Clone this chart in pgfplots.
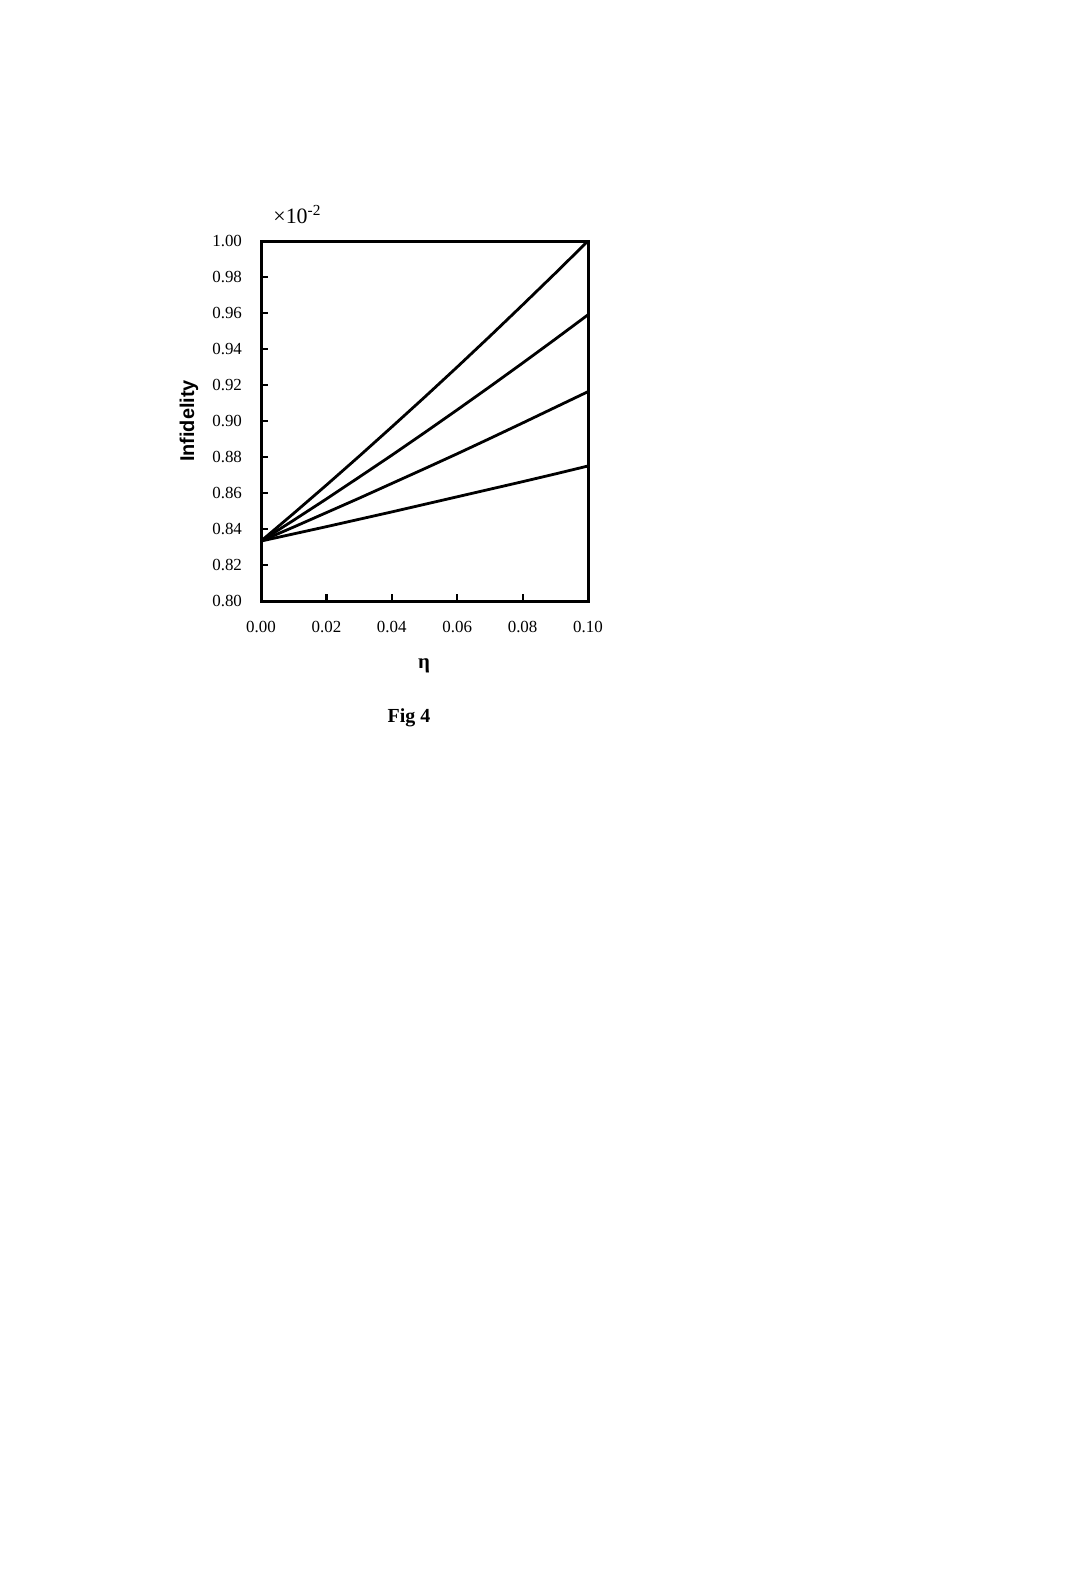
\documentclass[border=0pt]{standalone}
\usepackage{fontspec}
\setmainfont{Liberation Serif}
\newfontfamily\arialfont{Liberation Sans}
\usepackage{pgfplots}
\pgfplotsset{compat=1.18}

\begin{document}
\begin{tikzpicture}
% page: 1092 x 1572 px at 0.5bp per px
\useasboundingbox (0,0) rectangle (546bp,-786bp);
\begin{axis}[
    at={(130.5bp,-300.5bp)}, anchor=south west,
    scale only axis, width=163.5bp, height=180bp,
    xmin=0, xmax=0.1, ymin=0.8, ymax=1.0,
    xtick={0,0.02,0.04,0.06,0.08,0.1},
    ytick={0.80,0.82,0.84,0.86,0.88,0.90,0.92,0.94,0.96,0.98,1.00},
    xtick pos=left, ytick pos=left, tick align=inside,
    major tick length=3.5bp,
    tick style={line width=1.1bp, black},
    axis line style={line width=1.5bp},
    scaled ticks=false,
    /pgf/number format/.cd, fixed, fixed zerofill, precision=2, assume math mode=true,
    /pgfplots/.cd,
    ticklabel style={font=\fontsize{8.5}{10}\selectfont},
    yticklabel style={xshift=-6bp},
    xticklabel style={yshift=-6.5bp},
    clip=false,
]
\addplot[black, line width=1.4bp] coordinates {
(0,0.8333)(0.01,0.8487)(0.02,0.8644)(0.03,0.8804)(0.04,0.8967)(0.05,0.9132)
(0.06,0.9300)(0.07,0.9471)(0.08,0.9645)(0.09,0.9821)(0.10,1.0000)
};
\addplot[black, line width=1.4bp] coordinates {
(0,0.8333)(0.01,0.8449)(0.02,0.8567)(0.03,0.8688)(0.04,0.8810)(0.05,0.8935)
(0.06,0.9062)(0.07,0.9191)(0.08,0.9322)(0.09,0.9455)(0.10,0.9590)
};
\addplot[black, line width=1.4bp] coordinates {
(0,0.8333)(0.01,0.8411)(0.02,0.8491)(0.03,0.8571)(0.04,0.8653)(0.05,0.8735)
(0.06,0.8818)(0.07,0.8903)(0.08,0.8989)(0.09,0.9076)(0.10,0.9163)
};
\addplot[black, line width=1.4bp] coordinates {
(0,0.8333)(0.01,0.8373)(0.02,0.8413)(0.03,0.8454)(0.04,0.8495)(0.05,0.8537)
(0.06,0.8579)(0.07,0.8621)(0.08,0.8663)(0.09,0.8706)(0.10,0.8750)
};
\end{axis}
% labels
\node[rotate=90, font=\arialfont\bfseries\fontsize{10}{12}\selectfont] at (94.5bp,-210.5bp) {Infidelity};
\node[anchor=base, font=\bfseries\fontsize{10.5}{12}\selectfont, inner sep=0pt] at (212bp,-334bp) {η};
\node[anchor=base, font=\bfseries\fontsize{10}{12}\selectfont, inner sep=0pt] at (204.5bp,-361bp) {Fig 4};
\node[anchor=base west, font=\fontsize{11}{13}\selectfont, inner sep=0pt] at (136.5bp,-111.5bp) {×10\textsuperscript{-2}};
\end{tikzpicture}
\end{document}
